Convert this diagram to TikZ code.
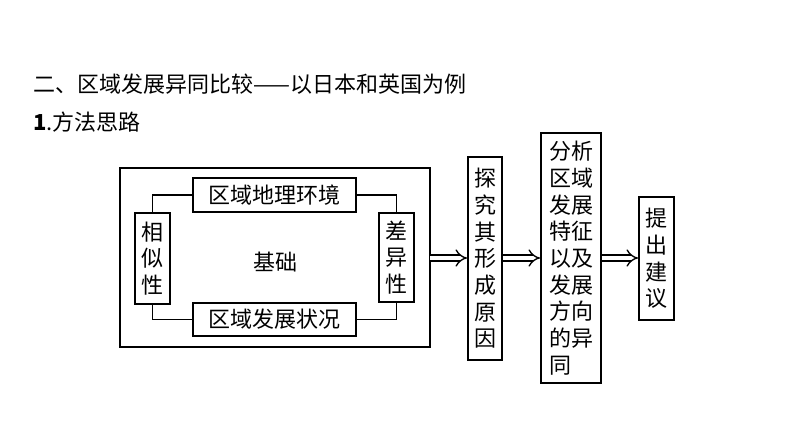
\documentclass[tikz,border=0pt]{standalone}
\usepackage{fontspec}
\setmainfont{Noto Sans CJK SC}
\usetikzlibrary{arrows.meta}
\begin{document}
\begin{tikzpicture}[x=0.75pt,y=-0.75pt,line width=1.4pt]
    \tikzstyle{box}=[draw,inner sep=0pt,font=\fontsize{16.5}{20}\selectfont,align=center]
    \tikzstyle{link}=[line width=1pt]
    \tikzstyle{go}=[double,double distance=3.5pt,line width=1pt,-{Implies[length=7pt,width=12pt]}]
    \useasboundingbox (0,0) rectangle (794,447);

    % Title lines
    \node[anchor=west,font=\fontsize{16.5}{20}\selectfont] (title) at (28,84) {二、区域发展异同比较——以日本和英国为例};
    \node[anchor=west,font=\fontsize{16.5}{20}\selectfont] (sub) at (28,122) {\textbf{1}.方法思路};

    % Base frame
    \draw (120,168) rectangle (430,347);
    \node[box,minimum width=163*0.75pt,minimum height=34*0.75pt] (env) at (274.5,195) {区域地理环境};
    \node[box,minimum width=163*0.75pt,minimum height=33*0.75pt] (dev) at (274.5,319.5) {区域发展状况};
    \node[box,minimum width=35*0.75pt,minimum height=91*0.75pt] (sim) at (152.5,258.5) {相\\似\\性};
    \node[box,minimum width=35*0.75pt,minimum height=89*0.75pt] (dif) at (396.5,257.5) {差\\异\\性};
    \node[font=\fontsize{16.5}{20}\selectfont] (base) at (275,262) {基础};
    \draw[link] (env.west) -| (sim.north);
    \draw[link] (sim.south) |- (dev.west);
    \draw[link] (env.east) -| (dif.north);
    \draw[link] (dif.south) |- (dev.east);
    \coordinate (frameR) at (430,258);

    % Steps
    \node[box,minimum width=34*0.75pt,minimum height=203*0.75pt] (cause) at (485,258.5) {探\\究\\其\\形\\成\\原\\因};
    \node[box,minimum width=60*0.75pt,minimum height=250*0.75pt] (ana) at (571,258) {分析\\区域\\发展\\特征\\以及\\发展\\方向\\的异\\同\hphantom{同}};
    \node[box,minimum width=35*0.75pt,minimum height=123*0.75pt] (adv) at (656.5,258.5) {提\\出\\建\\议};

    \draw[go] (frameR) -- (cause.west |- frameR);
    \draw[go] (cause.east |- frameR) -- (ana.west |- frameR);
    \draw[go] (ana.east |- frameR) -- (adv.west |- frameR);
\end{tikzpicture}
\end{document}
